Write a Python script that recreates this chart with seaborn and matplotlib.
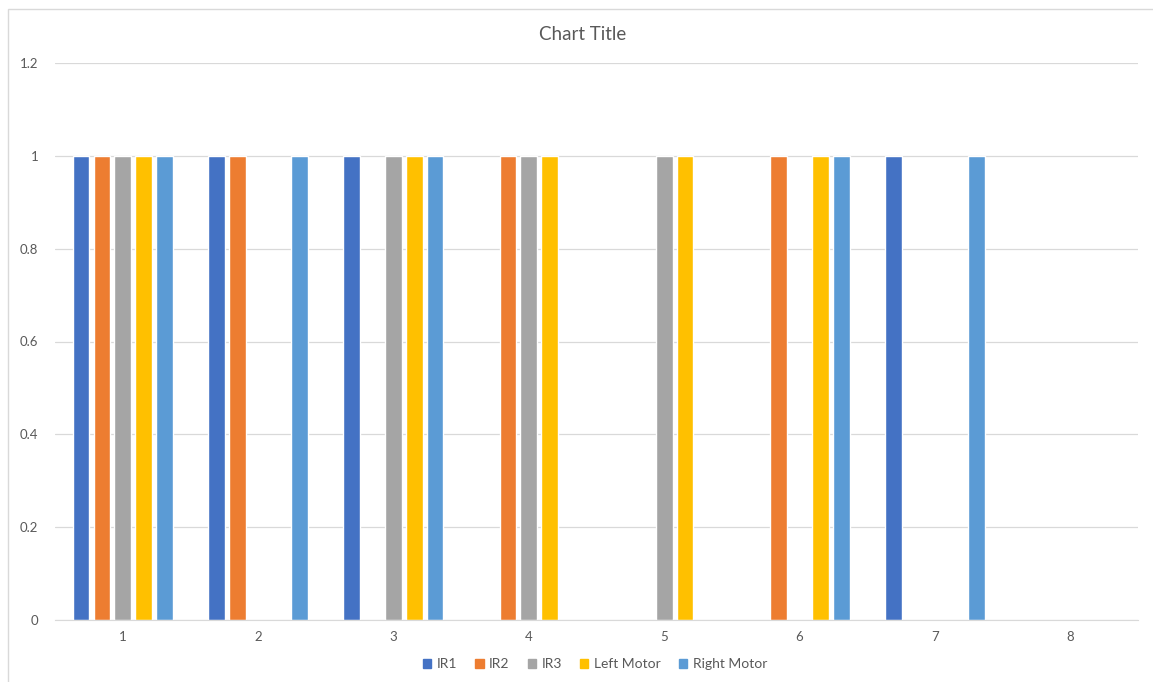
import pandas as pd
import matplotlib.pyplot as plt
import matplotlib.patches as mpatches
import seaborn as sns

# data (0 = off, 1 = on)
steps = ['1', '2', '3', '4', '5', '6', '7', '8']
ir1 = [1, 1, 1, 0, 0, 0, 1, 0]
ir2 = [1, 1, 0, 1, 0, 1, 0, 0]
ir3 = [1, 0, 1, 1, 1, 0, 0, 0]
left_motor = [1, 0, 1, 1, 1, 1, 0, 0]
right_motor = [1, 1, 1, 0, 0, 1, 1, 0]

series_names = ['IR1', 'IR2', 'IR3', 'Left Motor', 'Right Motor']
series_values = [ir1, ir2, ir3, left_motor, right_motor]
colors = ['#4472C4', '#ED7D31', '#A5A5A5', '#FFC000', '#5B9BD5']

rows = []
for name, vals in zip(series_names, series_values):
    for s, v in zip(steps, vals):
        rows.append({'step': s, 'series': name, 'value': v})
df = pd.DataFrame(rows)

sns.set_style('white')
plt.rcParams['font.family'] = ['Lato', 'DejaVu Sans']

fig = plt.figure(figsize=(11.53, 6.82), dpi=100)
ax = fig.add_axes([55 / 1153, 1 - 620 / 682, (1138 - 55) / 1153, (620 - 63) / 682])

sns.barplot(data=df, x='step', y='value', hue='series', hue_order=series_names,
            palette=colors, width=0.77, gap=0.2, errorbar=None, ax=ax,
            saturation=1, legend=False)

ax.set_ylim(0, 1.2)
ax.set_yticks([0, 0.2, 0.4, 0.6, 0.8, 1, 1.2])
ax.set_yticklabels(['0', '0.2', '0.4', '0.6', '0.8', '1', '1.2'])
ax.set_xlim(-0.5, 7.5)
ax.yaxis.grid(True, color='#D9D9D9', linewidth=0.9)
ax.set_axisbelow(True)
for side in ['top', 'right', 'left']:
    ax.spines[side].set_visible(False)
ax.spines['bottom'].set_color('#D9D9D9')
ax.tick_params(axis='both', length=0, labelsize=9.5, labelcolor='#595959')
ax.tick_params(axis='y', pad=12)
ax.tick_params(axis='x', pad=8)
ax.set_xlabel('')
ax.set_ylabel('')

fig.text(583 / 1153, 1 - 34 / 682, 'Chart Title', ha='center', va='center',
         fontsize=13.5, color='#595959')

handles = [mpatches.Patch(color=c, label=n) for c, n in zip(colors, series_names)]
fig.legend(handles=handles, loc='center', bbox_to_anchor=(595 / 1153, 1 - 664 / 682),
           ncol=5, frameon=False, fontsize=10, handlelength=0.6, handleheight=0.6,
           handletextpad=0.4, columnspacing=1.3, labelcolor='#595959')

# light frame of the chart area (cut off at right and bottom)
fig.patches.append(mpatches.Rectangle((8 / 1153, -0.1), 1.2, (1 - 9 / 682) + 0.1,
                                      transform=fig.transFigure, fill=False,
                                      edgecolor='#D9D9D9', linewidth=1))

fig.savefig('out.png', dpi=100)
